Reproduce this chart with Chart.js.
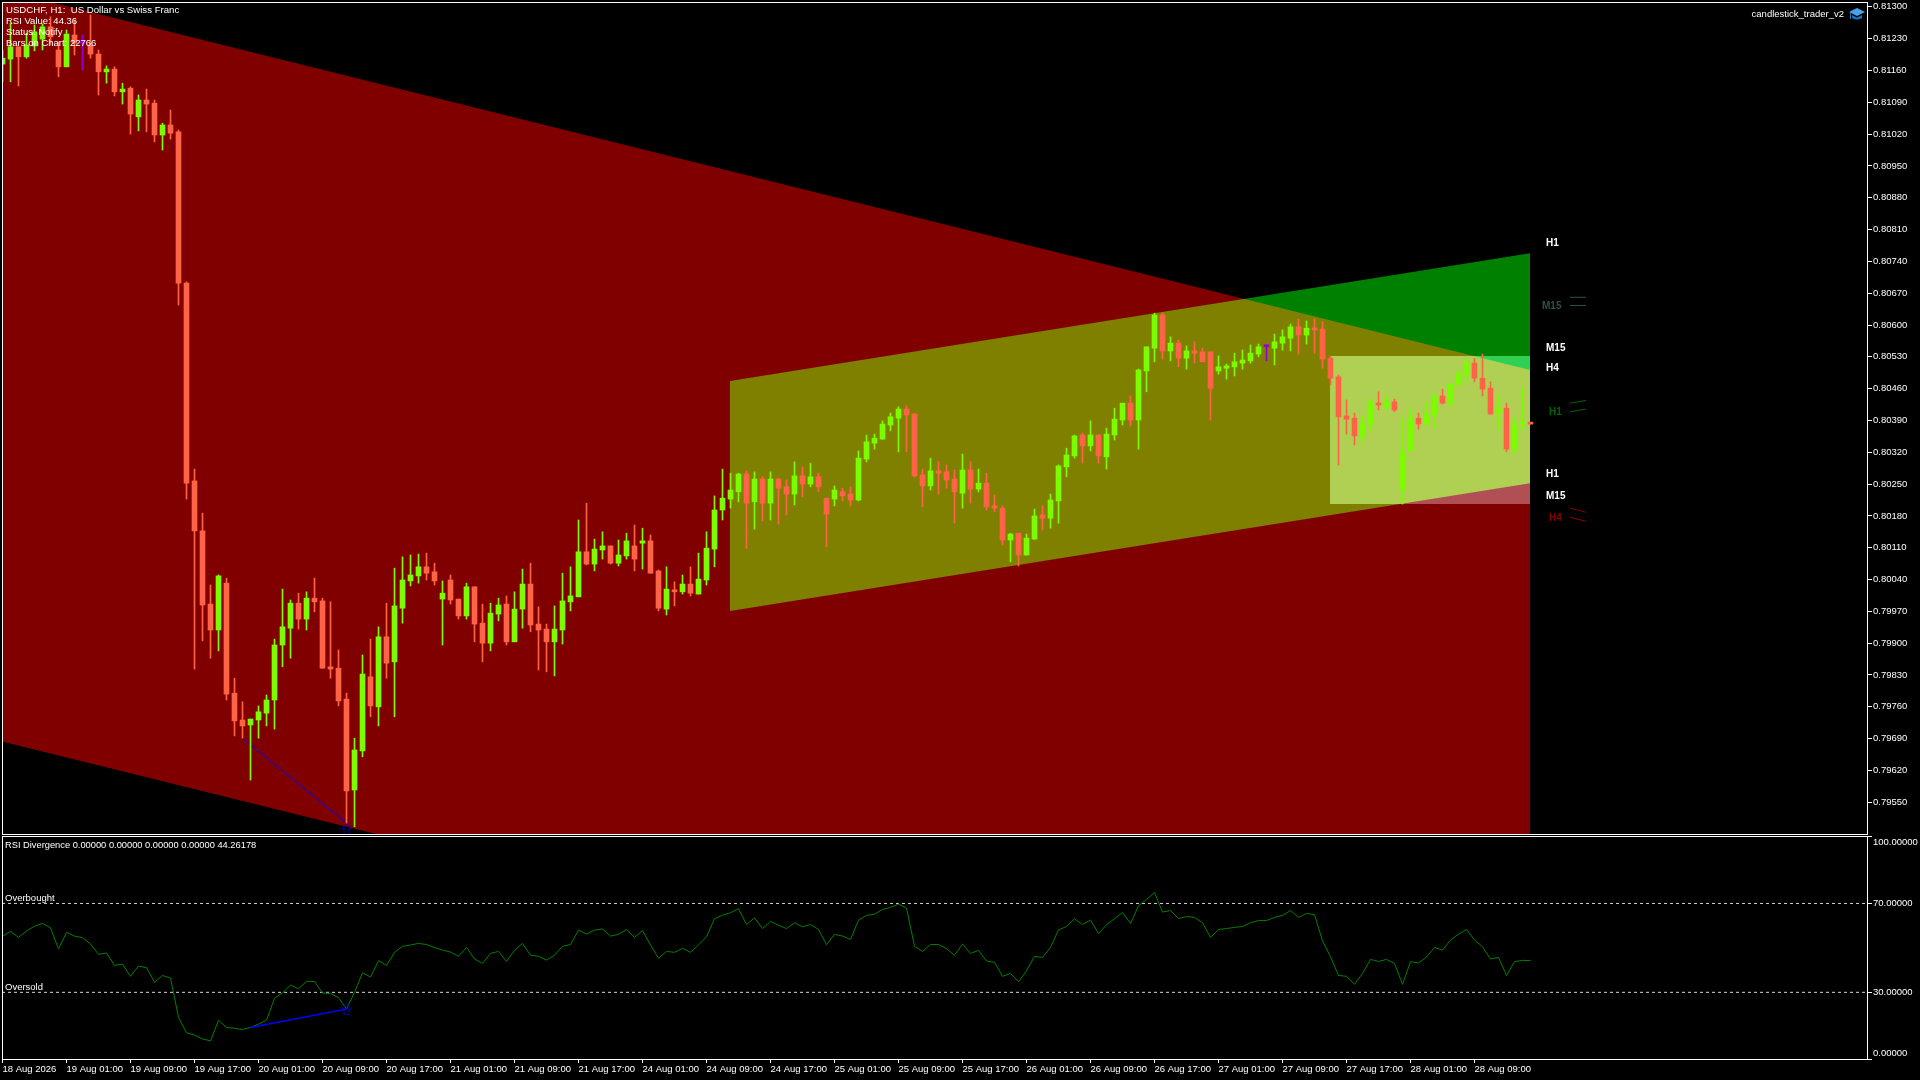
<!DOCTYPE html>
<html>
<head>
<meta charset="utf-8">
<title>USDCHF H1</title>
<script src="https://cdn.jsdelivr.net/npm/chart.js@4/dist/chart.umd.js"></script>
<style>
html, body { margin: 0; padding: 0; background: #000; width: 1920px; height: 1080px; overflow: hidden; }
canvas { position: absolute; left: 0; display: block; }
#priceChart { top: 0; }
#rsiChart { top: 836px; }
.t { position: absolute; color: #fff; font: 9.5px/11px "Liberation Sans", sans-serif; white-space: pre; z-index: 5; }
.z { font-weight: bold; font-size: 10px; }
</style>
</head>
<body>
<canvas id="priceChart" width="1920" height="836"></canvas>
<canvas id="rsiChart" width="1920" height="244"></canvas>

<div class="t" style="left:6px;top:4px;font-size:9.65px">USDCHF, H1:  US Dollar vs Swiss Franc</div>
<div class="t" style="left:6px;top:15px">RSI Value: 44.36</div>
<div class="t" style="left:6px;top:26px">Status: Notify</div>
<div class="t" style="left:6px;top:37px">Bars on Chart: 22766</div>
<div class="t" style="right:76px;top:8px">candlestick_trader_v2</div>
<svg style="position:absolute;left:1849px;top:8px;z-index:5" width="16" height="13" viewBox="0 0 16 13">
  <path d="M0 4 L8 0 L16 4 L8 8 Z" fill="#4aa3e8"/>
  <path d="M3 7 L3 10 Q8 13 13 10 L13 7 L8 9.5 Z" fill="#1f6fb5"/>
  <rect x="1" y="5" width="1" height="6" fill="#1f6fb5"/>
</svg>

<div class="t z" style="left:1546px;top:237px">H1</div>
<div class="t z" style="left:1542px;top:300px;color:#2f4f4f">M15</div>
<div class="t z" style="left:1546px;top:342px">M15</div>
<div class="t z" style="left:1546px;top:362px">H4</div>
<div class="t z" style="left:1549px;top:406px;color:#006400">H1</div>
<div class="t z" style="left:1546px;top:468px">H1</div>
<div class="t z" style="left:1546px;top:490px">M15</div>
<div class="t z" style="left:1549px;top:512px;color:#8b0000">H4</div>

<div class="t" style="left:5px;top:840px;font-size:9.3px">RSI Divergence 0.00000 0.00000 0.00000 0.00000 44.26178</div>
<div class="t" style="left:5px;top:892px">Overbought</div>
<div class="t" style="left:5px;top:981px">Oversold</div>

<script>
// Prices are in points, 81300 = 0.81300
const opens = [
81174,81185,81212,81190,81214,81229,81256,81205,81168,81238,
81220,81216,81196,81157,81163,81113,81121,81058,81095,81088,
81018,81040,81025,80692,80257,80147,79986,79929,80032,79790,
79731,79720,79731,79746,79775,79896,79933,79988,79953,79999,
79993,79848,79845,79777,79577,79663,79826,79760,79914,79859,
79977,80037,80048,80068,80057,79997,80039,79997,79960,80024,
79944,79900,79964,79986,79903,79975,80030,79942,79931,79903,
79929,79991,80002,80101,80074,80105,80114,80076,80092,80114,
80120,80125,80059,79975,80017,80013,80030,80008,80039,80107,
80193,80217,80233,80272,80211,80261,80208,80261,80244,80228,
80268,80250,80266,80219,80217,80233,80228,80215,80305,80340,
80349,80380,80395,80415,80404,80270,80246,80279,80277,80261,
80230,80281,80239,80252,80202,80197,80127,80142,80094,80129,
80182,80175,80213,80288,80312,80358,80334,80358,80310,80358,
80391,80428,80391,80499,80549,80622,80543,80560,80527,80543,
80541,80541,80499,80505,80508,80516,80521,80536,80552,80549,
80560,80571,80596,80578,80593,80591,80527,80486,80400,80395,
80356,80382,80428,80417,80431,80239,80323,80395,80382,80402,
80444,80428,80468,80492,80516,80483,80461,80406,80417,80327,
80382,80384];
const highs = [
81205,81264,81212,81242,81260,81262,81278,81223,81249,81271,
81238,81282,81205,81170,81168,81132,81124,81106,81119,81095,
81044,81073,81029,80695,80283,80186,80028,80050,80043,79823,
79771,79733,79762,79786,79909,80019,79995,80010,80013,80043,
79999,79991,79885,79790,79691,79874,79909,79936,79988,80065,
80090,80094,80096,80098,80076,80037,80050,79997,80032,80024,
79986,79988,79999,80004,80013,80063,80076,79980,79942,79982,
80054,80068,80171,80208,80129,80145,80114,80127,80142,80160,
80153,80138,80061,80068,80035,80050,80068,80098,80145,80224,
80283,80274,80274,80279,80277,80266,80277,80263,80259,80299,
80288,80296,80274,80219,80246,80241,80244,80323,80358,80360,
80389,80406,80420,80422,80406,80283,80307,80299,80292,80281,
80316,80299,80283,80274,80226,80202,80142,80142,80140,80195,
80202,80228,80292,80329,80358,80362,80389,80358,80373,80417,
80428,80444,80503,80552,80626,80626,80574,80567,80554,80563,
80549,80541,80532,80514,80538,80545,80556,80558,80556,80580,
80589,80602,80613,80609,80613,80607,80532,80490,80435,80406,
80400,80437,80453,80444,80437,80395,80417,80406,80431,80444,
80459,80470,80499,80525,80527,80536,80475,80444,80428,80398,
80461,80384];
const lows = [
81135,81135,81126,81187,81203,81205,81216,81146,81168,81194,
81161,81187,81106,81132,81104,81086,81020,81027,81025,81003,
80985,81009,80644,80217,79843,79905,79867,79883,79775,79696,
79691,79599,79691,79718,79711,79848,79867,79931,79929,79969,
79845,79823,79762,79504,79496,79650,79738,79718,79823,79738,
79944,80026,80032,80039,80028,79896,79986,79953,79953,79903,
79859,79883,79949,79896,79903,79933,79925,79841,79837,79828,
79898,79971,80002,80072,80059,80085,80074,80070,80085,80059,
80063,80054,79971,79962,79982,80008,80004,80008,80028,80068,
80171,80197,80211,80109,80151,80169,80171,80162,80182,80204,
80222,80244,80233,80112,80202,80213,80202,80213,80299,80327,
80349,80367,80321,80321,80266,80200,80237,80228,80241,80164,
80197,80208,80233,80193,80189,80116,80079,80070,80094,80129,
80149,80153,80164,80266,80307,80296,80323,80296,80283,80347,
80380,80378,80327,80453,80519,80525,80521,80508,80503,80516,
80519,80391,80492,80481,80488,80503,80516,80530,80521,80512,
80545,80543,80536,80558,80538,80505,80468,80292,80360,80336,
80340,80367,80413,80415,80409,80206,80323,80371,80378,80373,
80426,80422,80468,80475,80475,80444,80404,80371,80321,80316,
80369,80382];
const closes = [
81187,81212,81190,81216,81245,81256,81234,81168,81240,81220,
81220,81196,81157,81163,81113,81119,81064,81095,81086,81018,
81040,81022,80692,80252,80147,79984,79929,80048,79788,79729,
79718,79733,79749,79775,79896,79936,79988,79953,79999,79991,
79845,79843,79773,79575,79665,79832,79762,79914,79856,79982,
80039,80050,80068,80054,80037,80010,79995,79960,80024,79942,
79900,79966,79984,79903,79975,80030,79940,79929,79903,79931,
79993,80004,80101,80074,80107,80114,80076,80094,80125,80085,
80125,80054,79977,80019,80013,80030,80010,80041,80109,80193,
80219,80237,80272,80208,80261,80208,80261,80241,80228,80268,
80250,80266,80244,80184,80237,80224,80215,80307,80343,80351,
80382,80398,80415,80402,80268,80246,80279,80274,80259,80233,
80281,80239,80252,80200,80197,80127,80140,80094,80131,80180,
80175,80215,80290,80314,80356,80334,80358,80312,80360,80393,
80428,80391,80501,80552,80622,80543,80560,80527,80543,80538,
80519,80461,80508,80510,80519,80523,80538,80552,80552,80563,
80574,80596,80578,80593,80589,80525,80483,80398,80393,80356,
80384,80431,80424,80431,80413,80321,80395,80382,80404,80444,
80428,80470,80494,80516,80483,80459,80404,80417,80327,80382,
80384,80382];

const rsiValues = [
55.3,57.4,54.7,57.6,59.8,61.0,59.0,49.5,57.0,55.3,
54.6,51.7,47.1,47.7,42.1,42.7,37.2,41.8,41.1,34.5,
37.6,36.4,18.7,11.8,10.8,9.0,8.2,17.4,14.2,13.8,
13.3,14.2,15.7,17.5,27.3,29.8,33.3,31.6,34.9,34.9,
29.7,29.5,27.6,22.5,30.0,38.8,36.9,44.2,42.1,48.0,
50.7,51.3,52.0,51.5,50.2,49.0,48.1,46.2,50.2,45.0,
43.0,47.5,48.4,43.9,48.9,52.0,46.7,46.2,44.5,46.7,
50.7,51.5,58.0,56.2,58.0,58.5,55.3,56.1,58.3,54.7,
57.8,51.3,45.3,48.4,48.0,49.8,48.0,51.3,55.0,63.1,
64.7,65.8,67.6,60.5,63.5,58.7,61.9,60.2,58.7,61.3,
59.5,60.5,58.3,51.4,56.1,55.3,53.8,62.5,64.6,65.2,
67.3,68.2,69.7,67.9,50.7,48.4,51.5,51.5,49.7,46.6,
51.8,47.5,48.9,44.1,43.5,37.2,38.5,34.8,39.7,46.2,
45.7,50.2,58.1,59.6,63.1,60.5,62.5,56.5,60.4,63.1,
65.9,61.0,68.9,71.8,74.9,66.1,66.8,63.2,64.1,63.7,
61.3,54.7,58.3,58.7,59.2,59.6,61.3,62.3,62.3,63.7,
64.6,66.8,63.7,65.5,64.9,53.2,46.0,37.6,37.2,33.6,
38.5,44.8,43.9,44.8,43.0,33.6,43.8,43.2,45.9,50.2,
49.0,53.5,56.2,58.3,53.5,50.5,45.0,45.7,37.6,43.8,
44.4,44.26];

const priceTicks = [81300,81230,81160,81090,81020,80950,80880,80810,80740,80670,80600,80530,80460,
    80390,80320,80250,80180,80110,80040,79970,79900,79830,79760,79690,79620,79550];
const rsiTicks = [100, 70, 30, 0];
const timeTicks = [0,8,16,24,32,40,48,56,64,72,80,88,96,104,112,120,128,136,144,152,160,168,176,184];
const timeLabels = ['18 Aug 2026','19 Aug 01:00','19 Aug 09:00','19 Aug 17:00','20 Aug 01:00','20 Aug 09:00',
    '20 Aug 17:00','21 Aug 01:00','21 Aug 09:00','21 Aug 17:00','24 Aug 01:00','24 Aug 09:00','24 Aug 17:00',
    '25 Aug 01:00','25 Aug 09:00','25 Aug 17:00','26 Aug 01:00','26 Aug 09:00','26 Aug 17:00','27 Aug 01:00',
    '27 Aug 09:00','27 Aug 17:00','28 Aug 01:00','28 Aug 09:00'];

// Zones, x in bars and y in points
const redZoneX = [-1, 190.9375, 190.9375, -1];
const redZoneY = [81341, 80501, 78852, 79688];
const channelX = [90.9375, 190.9375, 190.9375, 90.9375];
const channelY = [80477, 80758, 80252, 79971];
const boxX = [165.9375, 190.9375, 190.9375, 165.9375];
const boxY = [80532, 80532, 80206, 80206];

// Short level strokes right of the last bar
const strokeX = [195.94, 197.94];
const m15StrokeA = [80661, 80661];
const m15StrokeB = [80643, 80643];
const h1StrokeA = [80428, 80434];
const h1StrokeB = [80409, 80415];
const h4StrokeA = [80197, 80188];
const h4StrokeB = [80177, 80168];

const divergenceBars = [30, 43];
const rsiDivergenceBars = [31, 43];
const rsiArrowValue = 22.3;
const priceArrowValue = 79491;
const overbought = 70;
const oversold = 30;

const GREEN = '#7cfc00', RED = '#ff6347', DOJI = '#9400d3';
const xMin = -0.0625, xMax = 233.0625;
const priceMin = 79480.2, priceMax = 81310.6;

const toPoints = (xs, ys) => xs.map((x, i) => ({ x, y: ys[i] }));

function candleColor(i) {
    if (closes[i] > opens[i]) return GREEN;
    if (closes[i] < opens[i]) return RED;
    return DOJI;
}
const candleColors = opens.map((_, i) => candleColor(i));

// Hollow up arrow used for the divergence signal
function makeArrow() {
    const c = document.createElement('canvas');
    c.width = 10; c.height = 12;
    const g = c.getContext('2d');
    g.strokeStyle = '#0000d8';
    g.beginPath();
    g.moveTo(5, 0.5); g.lineTo(9.5, 5.5); g.lineTo(7.5, 5.5); g.lineTo(7.5, 11.5);
    g.lineTo(2.5, 11.5); g.lineTo(2.5, 5.5); g.lineTo(0.5, 5.5); g.closePath();
    g.stroke();
    return c;
}
const arrowIcon = makeArrow();

function zone(xs, ys, color) {
    return { type: 'line', data: toPoints(xs, ys), fill: 'shape', backgroundColor: color,
        borderWidth: 0, pointRadius: 0, order: 10 };
}
function stroke(ys, color) {
    return { type: 'line', data: toPoints(strokeX, ys), borderColor: color, borderWidth: 1,
        pointRadius: 0, fill: false, order: 3 };
}

// Zones add up like in the terminal: red + green = olive
const addZones = {
    id: 'addZones',
    beforeDatasetsDraw(chart) { chart.ctx.globalCompositeOperation = 'lighter'; },
    afterDatasetDraw(chart, args) { if (args.index === 0) chart.ctx.globalCompositeOperation = 'source-over'; }
};
const frame = {
    id: 'frame',
    afterDatasetsDraw(chart) {
        const a = chart.chartArea, ctx = chart.ctx;
        ctx.save();
        ctx.strokeStyle = '#fff';
        ctx.lineWidth = 1;
        ctx.strokeRect(a.left + 0.5, Math.floor(a.top) + 0.5, a.right - a.left, Math.floor(a.bottom) - Math.floor(a.top));
        ctx.restore();
    }
};

function yAxisFit(scale) {
    scale.width = 53;
    scale.paddingTop = 0;
    scale.paddingBottom = 0;
}

new Chart(document.getElementById('priceChart'), {
    type: 'bar',
    data: {
        datasets: [
            zone(redZoneX, redZoneY, '#800000'),
            zone(channelX, channelY, '#008000'),
            zone(boxX, boxY, '#305054'),
            { type: 'line', data: divergenceBars.map(k => ({ x: k, y: lows[k] })), borderColor: '#0000ff',
                borderWidth: 1, pointRadius: 0, order: 2 },
            { type: 'line', data: [{ x: divergenceBars[1], y: priceArrowValue }], showLine: false,
                pointStyle: arrowIcon, order: 2 },
            stroke(m15StrokeA, '#2f4f4f'), stroke(m15StrokeB, '#2f4f4f'),
            stroke(h1StrokeA, '#006400'), stroke(h1StrokeB, '#006400'),
            stroke(h4StrokeA, '#8b0000'), stroke(h4StrokeB, '#8b0000'),
            { data: lows.map((l, i) => ({ x: i, y: [l, highs[i]] })), backgroundColor: candleColors,
                barThickness: 1, grouped: false, minBarLength: 1, order: 1 },
            { data: opens.map((o, i) => ({ x: i, y: [o, closes[i]] })), backgroundColor: candleColors,
                barThickness: 5, grouped: false, minBarLength: 2, order: 0 }
        ]
    },
    options: {
        responsive: false,
        animation: false,
        devicePixelRatio: 1,
        layout: { autoPadding: false, padding: { left: 2, top: 2, bottom: 2, right: 0 } },
        plugins: { legend: { display: false }, tooltip: { enabled: false }, filler: { drawTime: 'beforeDatasetDraw' } },
        scales: {
            x: { type: 'linear', display: false, min: xMin, max: xMax, offset: false, grid: { display: false } },
            y: {
                position: 'right', min: priceMin, max: priceMax,
                afterBuildTicks: s => { s.ticks = priceTicks.map(value => ({ value })); },
                afterFit: yAxisFit,
                border: { display: false },
                grid: { drawOnChartArea: false, tickLength: 5, color: '#fff' },
                ticks: { color: '#fff', padding: 1, crossAlign: 'near', autoSkip: false,
                    font: { family: 'Liberation Sans', size: 9.5 },
                    callback: v => (v / 100000).toFixed(5) }
            }
        }
    },
    plugins: [addZones, frame]
});

new Chart(document.getElementById('rsiChart'), {
    type: 'line',
    data: {
        datasets: [
            { data: rsiValues.map((y, x) => ({ x, y })), borderColor: '#008000', borderWidth: 1, pointRadius: 0, tension: 0, order: 2 },
            { data: [{ x: xMin, y: overbought }, { x: xMax, y: overbought }], borderColor: '#d8d8d8', borderWidth: 1,
                borderDash: [3, 3], pointRadius: 0, order: 3 },
            { data: [{ x: xMin, y: oversold }, { x: xMax, y: oversold }], borderColor: '#d8d8d8', borderWidth: 1,
                borderDash: [3, 3], pointRadius: 0, order: 3 },
            { data: rsiDivergenceBars.map(k => ({ x: k, y: rsiValues[k] })), borderColor: '#0000ff', borderWidth: 1.5, pointRadius: 0, order: 1 },
            { data: [{ x: rsiDivergenceBars[1], y: rsiArrowValue }], showLine: false, pointStyle: arrowIcon, order: 1 }
        ]
    },
    options: {
        responsive: false,
        animation: false,
        devicePixelRatio: 1,
        layout: { autoPadding: false, padding: { left: 2, top: 0.75, bottom: 0, right: 0 } },
        plugins: { legend: { display: false }, tooltip: { enabled: false } },
        scales: {
            x: {
                type: 'linear', min: xMin, max: xMax,
                afterBuildTicks: s => { s.ticks = timeTicks.map(value => ({ value })); },
                afterFit: s => { s.height = 21; s.paddingLeft = 0; s.paddingRight = 0; },
                border: { display: false },
                grid: { drawOnChartArea: false, tickLength: 4, color: '#fff' },
                ticks: { color: '#fff', padding: 1, maxRotation: 0, autoSkip: false, align: 'start',
                    font: { family: 'Liberation Sans', size: 9.5 },
                    callback: v => timeLabels[timeTicks.indexOf(v)] }
            },
            y: {
                position: 'right', min: 0, max: 100,
                afterBuildTicks: s => { s.ticks = rsiTicks.map(value => ({ value })); },
                afterFit: yAxisFit,
                border: { display: false },
                grid: { drawOnChartArea: false, tickLength: 5, color: '#fff' },
                ticks: { color: '#fff', padding: 1, crossAlign: 'near', autoSkip: false,
                    font: { family: 'Liberation Sans', size: 9.5 },
                    callback: v => v === 100 ? ['', '100.00000'] : v === 0 ? ['0.00000', ''] : v.toFixed(5) }
            }
        }
    },
    plugins: [frame]
});
</script>
</body>
</html>
